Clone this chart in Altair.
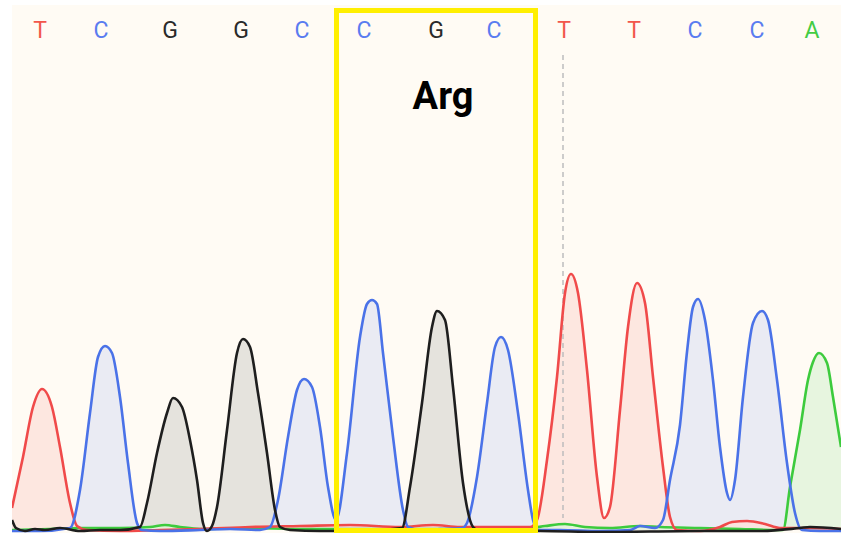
import altair as alt
import pandas as pd

# ---- trace data (scan position, signal intensity) ----
T_x = [12, 23, 33, 42, 52, 60, 70, 77, 87, 120, 160, 200, 250, 300, 350, 400, 433, 460, 500, 530,
       537, 547, 557, 565, 571, 578, 587, 597, 604, 610, 620, 628, 637, 645, 653, 663, 670, 677,
       700, 720, 732, 747, 765, 780, 800, 841]
T_y = [22, 73, 123, 141, 123, 83, 27, 4, 0, -1, 0, 1, 3, 4, 5, 3, 5, 3, 3, 3,
       10, 70, 153, 237, 256, 237, 160, 53, 12, 23, 120, 203, 247, 227, 153, 63, 13, 0,
       -1, 3, 8, 9, 6, 2, 2, 1]

C_x = [12, 40, 70, 80, 90, 98, 105, 112, 120, 128, 137, 142, 160, 200, 230, 260,
       270, 278, 288, 297, 304, 312, 320, 328, 336, 347, 360, 367, 372, 377, 383, 393, 403, 408,
       420, 440, 462, 467, 477, 487, 495, 501, 508, 518, 528, 533, 538, 560, 600, 630, 640, 655,
       663, 670, 680, 687, 693, 698, 705, 713, 720, 727, 730, 735, 743, 753, 762, 768, 777, 787,
       795, 802, 820, 841]
C_y = [-1, -1, 2, 40, 117, 173, 184, 177, 133, 67, 7, 0, -1, 0, 1, 0,
       3, 30, 93, 140, 151, 143, 103, 43, 10, 77, 193, 226, 230, 226, 177, 93, 20, 3,
       0, 1, 2, 7, 53, 127, 183, 193, 180, 117, 40, 10, 0, 0, -1, 0, 4, 2,
       10, 50, 105, 178, 223, 231, 210, 150, 83, 37, 30, 50, 133, 207, 219, 210, 150, 67,
       17, 0, -1, -1]

G_x = [12, 16, 25, 35, 45, 60, 80, 100, 120, 140, 147, 157, 167, 173, 182, 190, 197, 203, 207,
       212, 217, 227, 237, 243, 250, 258, 267, 275, 280, 290, 320, 360, 402, 410, 422, 432, 437,
       445, 453, 463, 473, 480, 540, 600, 700, 760, 800, 810, 841]
G_y = [10, 2, -1, 1, 0, 2, -1, 0, 0, 3, 27, 77, 117, 132, 123, 90, 50, 7, -1,
       4, 23, 100, 177, 191, 183, 137, 77, 20, 3, 0, -1, -1, 2, 43, 127, 203, 219,
       210, 143, 47, 3, -1, -1, -2, -1, -1, 2, 3, 1]

A_x = [12, 50, 80, 120, 150, 165, 180, 200, 250, 300, 350, 400, 450, 500, 530, 545, 565, 585,
       610, 640, 660, 700, 740, 775, 783, 790, 800, 808, 813, 819, 827, 833, 841]
A_y = [0, 1, 2, 2, 3, 5, 3, 1, 2, 1, 1, 1, 1, 2, 2, 4, 6, 3,
       2, 4, 3, 2, 1, 0, 0, 43, 100, 150, 168, 177, 167, 133, 83]

# ---- base calls ----
base_calls = ["T", "C", "G", "G", "C", "C", "G", "C", "T", "T", "C", "C", "A"]
base_x = [40, 101, 170, 241, 302, 364, 436, 494, 564, 634, 695, 757, 812]
label_level = 499

codon_label = "Arg"
codon_x = [336.5, 535.5]
codon_level = [519.5, -0.5]
codon_text_pos = [443, 432]
marker_x = 563
marker_span = [475, 12]

bases = ["A", "C", "G", "T"]
line_colors = {"A": "#3DCB3D", "C": "#4A72E8", "G": "#1E1E1E", "T": "#F04A4A"}
fill_colors = {"A": "#E3F3DB", "C": "#E6E7F2", "G": "#E0DED8", "T": "#FDE3DC"}
label_colors = ["#44CC44", "#5A7CF0", "#2A2A2A", "#F2564B"]

series = {"A": (A_x, A_y), "C": (C_x, C_y), "G": (G_x, G_y), "T": (T_x, T_y)}

labels = pd.DataFrame({"base": base_calls, "pos": base_x, "signal": [label_level] * len(base_x)})

xscale = alt.Scale(domain=[12, 841], nice=False, zero=False)
yscale = alt.Scale(domain=[-3, 525], nice=False, zero=False)

X = alt.X("pos:Q", scale=xscale, axis=None)
Y = alt.Y("signal:Q", scale=yscale, axis=None)


def frame(b):
    xs, ys = series[b]
    return pd.DataFrame({"pos": xs, "signal": ys, "floor": [0] * len(xs)})


area_layers = []
line_layers = []
for b in ["G", "C", "T", "A"]:
    df = frame(b)
    area_layers.append(
        alt.Chart(df).mark_area(interpolate="monotone", clip=True, color=fill_colors[b], opacity=0.85)
        .encode(x=X, y=Y, y2="floor:Q")
    )
for b in ["A", "T", "C", "G"]:
    df = frame(b)
    line_layers.append(
        alt.Chart(df).mark_line(interpolate="monotone", strokeWidth=2.6, clip=True, color=line_colors[b])
        .encode(x=X, y=Y)
    )

marker_df = pd.DataFrame({"pos": [marker_x], "signal": [marker_span[0]], "s2": [marker_span[1]]})
marker = alt.Chart(marker_df).mark_rule(
    color="#BDBDBD", strokeDash=[5, 4], strokeWidth=1.5
).encode(x=X, y=Y, y2="s2:Q")

box_df = pd.DataFrame({"x1": [codon_x[0]], "x2": [codon_x[1]], "y1": [codon_level[0]], "y2": [codon_level[1]]})
box = alt.Chart(box_df).mark_rect(fillOpacity=0, stroke="#FFEF00", strokeWidth=5).encode(
    x=alt.X("x1:Q", scale=xscale, axis=None), x2="x2:Q",
    y=alt.Y("y1:Q", scale=yscale, axis=None), y2="y2:Q",
)

base_text = alt.Chart(labels).mark_text(font="Roboto", fontSize=23, baseline="middle").encode(
    x=X, y=Y, text="base:N",
    color=alt.Color("base:N", scale=alt.Scale(domain=bases, range=label_colors), legend=None),
)

codon_df = pd.DataFrame({"pos": [codon_text_pos[0]], "signal": [codon_text_pos[1]], "t": [codon_label]})
codon_text = alt.Chart(codon_df).mark_text(
    font="Roboto", fontSize=38, fontWeight="bold", baseline="middle", color="#000000"
).encode(x=X, y=Y, text="t:N")

chart = alt.layer(*area_layers, marker, *line_layers, box, base_text, codon_text).properties(
    width=829, height=528,
    padding={"left": 12, "top": 5, "right": 0, "bottom": 2},
    autosize=alt.AutoSizeParams(type="none"),
    background="#FFFFFF",
).configure_view(fill="#FFFBF4", strokeWidth=0)

chart.save("out.html", embed_options={"renderer": "svg", "actions": False})
